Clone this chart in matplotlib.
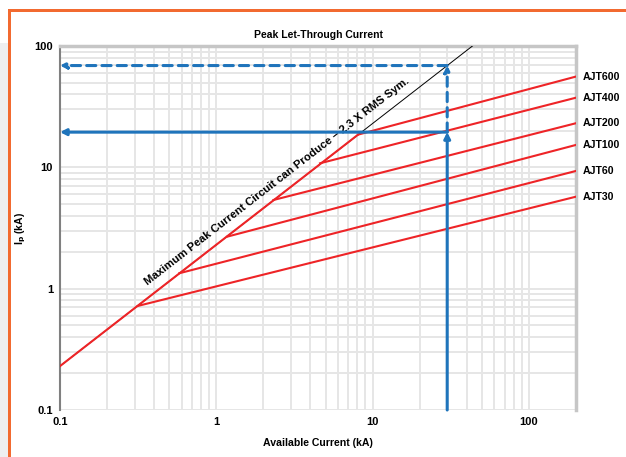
import matplotlib
matplotlib.use("Agg")
import matplotlib.pyplot as plt
from matplotlib.patches import Rectangle

plt.rcParams["font.family"] = ["Liberation Sans", "DejaVu Sans"]
plt.rcParams["font.weight"] = "bold"

# curves (kA)
series = ["AJT30", "AJT60", "AJT100", "AJT200", "AJT400", "AJT600"]
start_x = [0.314, 0.58, 1.17, 2.32, 4.61, 8.07]
start_y = [0.72, 1.34, 2.68, 5.38, 10.8, 18.6]
end_x = 200
end_y = [5.73, 9.34, 15.3, 23.1, 37.5, 56.0]

# max peak line: 2.3 x RMS sym
diag_x = [0.1, 43.5]
diag_y = [0.23, 100]

# example lookup
avail = 30
peak_let = 19.5
peak_max = 69

red = "#ee2427"
blue = "#1f74bb"

fig = plt.figure(figsize=(6.26, 4.57), dpi=100)
fig.patch.set_facecolor("white")

# page frame bits
fig.patches.append(Rectangle((0, 0), 9 / 626, 1 - 43 / 457, transform=fig.transFigure,
                             facecolor="#eeeff1", edgecolor="none", zorder=0))
fig.patches.append(Rectangle((8 / 626, 0), 3 / 626, 1 - 9 / 457, transform=fig.transFigure,
                             facecolor="#f26a30", edgecolor="none", zorder=1))
fig.patches.append(Rectangle((8 / 626, 1 - 12 / 457), 1, 3 / 457, transform=fig.transFigure,
                             facecolor="#f26a30", edgecolor="none", zorder=1))

ax = fig.add_axes([60 / 626, 1 - 410 / 457, 516 / 626, 364 / 457])
ax.set_xscale("log")
ax.set_yscale("log")
ax.set_xlim(0.1, 200)
ax.set_ylim(0.1, 100)

ax.grid(True, which="both", color="#e6e6e6", lw=1.4)
ax.set_axisbelow(True)
ax.tick_params(which="both", length=0, labelsize=8, pad=5)
ax.set_xticks([0.1, 1, 10, 100])
ax.set_xticklabels(["0.1", "1", "10", "100"])
ax.set_yticks([0.1, 1, 10, 100])
ax.set_yticklabels(["0.1", "1", "10", "100"])
for lab in ax.get_xticklabels() + ax.get_yticklabels():
    lab.set_fontweight("bold")

ax.spines["bottom"].set_visible(False)
ax.spines["left"].set_color("#808080")
ax.spines["left"].set_linewidth(1.5)
for s in ["top", "right"]:
    ax.spines[s].set_color("#c6c6c6")
    ax.spines[s].set_linewidth(2.5)

# black thin 2.3x line and red portion
ax.plot(diag_x, diag_y, color="black", lw=0.7, zorder=3)
ax.plot([diag_x[0], start_x[-1]], [diag_y[0], start_y[-1]], color=red, lw=1.5, zorder=4)

for name, sx, sy, ey in zip(series, start_x, start_y, end_y):
    ax.plot([sx, end_x], [sy, ey], color=red, lw=1.5, zorder=4)
    ax.annotate(name, xy=(end_x, ey), xytext=(5, 0), textcoords="offset points",
                ha="left", va="center", fontsize=7.6, fontweight="bold",
                annotation_clip=False)

ax.text(0.365, 1.07, "Maximum Peak Current Circuit can Produce \u2013 2.3 X RMS Sym.",
        rotation=37.8, rotation_mode="anchor", ha="left", va="baseline",
        fontsize=8.1, fontweight="bold", zorder=5)

# blue lookup arrows
arr = dict(arrowstyle="-|>,head_length=0.35,head_width=0.18", color=blue, lw=2.2,
           shrinkA=0, shrinkB=0)
ax.annotate("", xy=(avail, peak_let), xytext=(avail, 0.1), arrowprops=arr, zorder=6)
ax.annotate("", xy=(0.1, peak_let), xytext=(avail, peak_let), arrowprops=arr, zorder=6)
darr = dict(arr, linestyle=(0, (3, 2)))
ax.annotate("", xy=(avail, peak_max), xytext=(avail, peak_let), arrowprops=darr, zorder=6)
ax.annotate("", xy=(0.1, peak_max), xytext=(avail, peak_max), arrowprops=darr, zorder=6)

ax.set_title("Peak Let-Through Current", fontsize=7.5, fontweight="bold", pad=6)
ax.set_xlabel("Available Current (kA)", fontsize=7.6, fontweight="bold")
ax.xaxis.set_label_coords(0.5, -28 / 364)
ax.set_ylabel("I$_\\mathbf{p}$ (kA)", fontsize=7.6, fontweight="bold")
ax.yaxis.set_label_coords(-32 / 516, 0.5)

fig.savefig("out.png", dpi=100)
